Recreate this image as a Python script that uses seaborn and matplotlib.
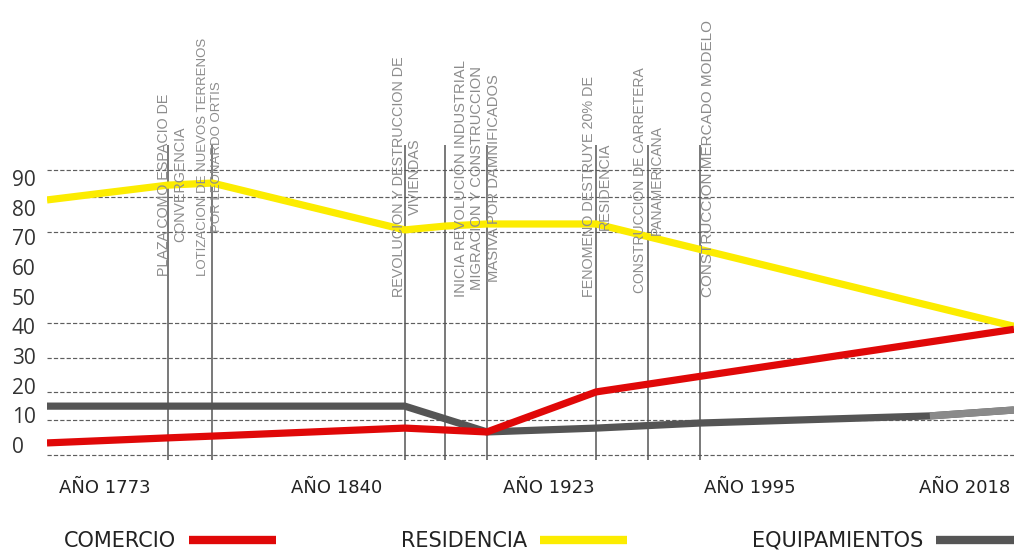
import numpy as np
import pandas as pd
import matplotlib
matplotlib.use("Agg")
import matplotlib.pyplot as plt
from matplotlib.lines import Line2D
from matplotlib.ticker import FixedLocator
import seaborn as sns

# ---------------- data ----------------
year_labels = ["AÑO 1773", "AÑO 1840", "AÑO 1923", "AÑO 1995", "AÑO 2018"]
year_pos = [6.0, 29.9, 51.9, 72.7, 94.9]

y_ticks = [0, 10, 20, 30, 40, 50, 60, 70, 80, 90]
grid_levels = [-3.4, 8.4, 17.8, 29.3, 41.0, 50.0, 60.0, 71.7, 83.5, 92.6]

comercio_x = [0, 12.5, 17.1, 37.0, 45.5, 56.8, 100]
comercio_y = [0.7, 2.4, 3.0, 5.7, 4.4, 17.9, 39.0]

residencia_x = [0, 12.5, 17.1, 37.0, 41.2, 45.5, 56.8, 100]
residencia_y = [82.6, 87.6, 88.3, 72.5, 73.8, 74.5, 74.5, 40.0]

equip_x = [0, 37.0, 45.5, 56.8, 67.5, 91.3, 100]
equip_y = [13.1, 13.1, 4.4, 5.7, 7.4, 9.8, 11.8]

series_names = ["COMERCIO", "RESIDENCIA", "EQUIPAMIENTOS"]
series_colors = ["#e00808", "#fcec00", "#555555"]

event_x = [12.5, 17.1, 37.0, 41.2, 45.5, 56.8, 62.2, 67.5]
event_top = 101
event_bottom = -5.1

event_texts = [
    "PLAZA COMO ESPACIO DE\nCONVERGENCIA",
    "LOTIZACION DE NUEVOS TERRENOS\nPOR LEONARDO ORTIS",
    "REVOLUCION Y DESTRUCCION DE\nVIVIENDAS",
    "INICIA REVOLUCIÓN INDUSTRIAL\nMIGRACION Y CONSTRUCCION\nMASIVA POR DAMNIFICADOS",
    "FENOMENO DESTRUYE 20% DE\nRESIDENCIA",
    "CONSTRUCCIÓN DE CARRETERA\nPANAMERICANA",
    "CONSTRUCCION MERCADO MODELO",
]
event_text_anchor = [0, 1, 2, 3, 5, 6, 7]          # which event line each text belongs to
event_text_dx_px = [4, -2, 2, 32, 1, 0, 8]          # small horizontal nudges (pixels)
event_text_base = [57.0, 57.0, 50.0, 50.0, 50.0, 51.2, 50.0]
event_text_size = [10.3, 9.5, 10.4, 10.6, 10.4, 10.0, 11.0]

# ---------------- figure ----------------
sns.set_theme(style="white")
plt.rcParams["font.family"] = ["DejaVu Sans"]

W, H = 1014, 552
fig = plt.figure(figsize=(W / 100, H / 100), dpi=100)
ax = fig.add_axes([47 / W, (H - 462) / H, (W - 47) / W, 462 / H])
ax.set_xlim(0, 100)
ax.set_ylim(-5.73, 150)

# dashed grid (minor ticks at hand-drawn levels)
ax.yaxis.set_minor_locator(FixedLocator(grid_levels))
ax.grid(which="minor", axis="y", linestyle=(0, (3.6, 1.8)), color="#5e5e5e", linewidth=0.85)
ax.grid(which="major", visible=False)
ax.set_axisbelow(True)

# event vertical lines
ax.vlines(event_x, event_bottom, event_top, color="#555555", linewidth=1.1, zorder=2)

# series lines
df = pd.concat([
    pd.DataFrame({"x": equip_x, "y": equip_y, "serie": "EQUIPAMIENTOS"}),
    pd.DataFrame({"x": residencia_x, "y": residencia_y, "serie": "RESIDENCIA"}),
    pd.DataFrame({"x": comercio_x, "y": comercio_y, "serie": "COMERCIO"}),
], ignore_index=True)
palette = dict(zip(series_names, series_colors))
sns.lineplot(data=df, x="x", y="y", hue="serie",
             hue_order=["EQUIPAMIENTOS", "RESIDENCIA", "COMERCIO"],
             palette=palette, linewidth=5.2, estimator=None, sort=False,
             legend=False, ax=ax, zorder=3)
# lighter tail of the equipment line
ax.plot(equip_x[-2:], equip_y[-2:], color="#8a8a8a", linewidth=5.2,
        solid_capstyle="butt", zorder=3)
for ln in ax.get_lines():
    ln.set_solid_capstyle("butt")
    ln.set_solid_joinstyle("round")

# event annotations
for txt, ai, dx, base, fs in zip(event_texts, event_text_anchor, event_text_dx_px,
                                 event_text_base, event_text_size):
    ax.annotate(txt, xy=(event_x[ai], base), xytext=(dx * 0.72, 0),
                textcoords="offset points", rotation=90, ha="center", va="bottom",
                fontsize=fs, color="#8c8c8c", family=["Liberation Sans", "DejaVu Sans"],
                linespacing=1.2, zorder=4)

# axes cosmetics
for s in ax.spines.values():
    s.set_visible(False)
ax.set_xlabel("")
ax.set_ylabel("")
ax.set_xticks(year_pos, year_labels)
ax.set_yticks(y_ticks, [str(v) for v in y_ticks])
ax.tick_params(which="both", length=0)
ax.tick_params(axis="x", pad=12, labelsize=13, labelcolor="#222222")
ax.tick_params(axis="y", pad=25.2, labelsize=15, labelcolor="#333333")
for lab in ax.get_yticklabels():
    lab.set_horizontalalignment("left")
    lab.set_family(["Open Sans", "DejaVu Sans"])

# legend
handles = [Line2D([], [], color=c, linewidth=6, solid_capstyle="butt") for c in series_colors]
fig.legend(handles, series_names, loc="center left", bbox_to_anchor=(64 / W, 0.02),
           ncol=3, frameon=False, markerfirst=False, handlelength=4.2,
           handletextpad=0.6, columnspacing=6.0, borderpad=0, borderaxespad=0,
           prop={"size": 15, "family": "DejaVu Sans"}, labelcolor="#222222")

fig.savefig("out.png", dpi=100)
